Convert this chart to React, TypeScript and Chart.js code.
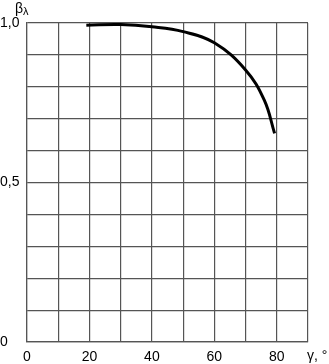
import React, { useEffect, useRef } from "react";
import { Chart, registerables } from "chart.js";

Chart.register(...registerables);

const gammaDeg = [19, 30, 40, 50, 60, 70, 76, 79.3];
const betaLambda = [0.993, 0.995, 0.988, 0.973, 0.938, 0.853, 0.758, 0.654];
const xTickLabels = [0, 20, 40, 60, 80];
const yTickLabels = [0, 0.5, 1.0];
const xTitle = "γ, °";

const FONT = "'Liberation Sans', Arial, sans-serif";

const titlesPlugin = {
  id: "titles",
  afterDraw(chart: any) {
    const ctx = chart.ctx;
    const area = chart.chartArea;
    ctx.save();
    ctx.fillStyle = "#000";
    ctx.font = `14px ${FONT}`;
    ctx.textBaseline = "middle";
    ctx.textAlign = "left";
    ctx.fillText("β", 15, 9);
    ctx.font = `11px ${FONT}`;
    ctx.fillText("λ", 23, 12);
    ctx.font = `14px ${FONT}`;
    ctx.fillText(xTitle, area.right - 1, 356);
    ctx.restore();
  },
};

export default function App() {
  const ref = useRef<HTMLCanvasElement | null>(null);
  useEffect(() => {
    if (!ref.current) return;
    const chart = new Chart(ref.current, {
      type: "line",
      data: {
        datasets: [
          {
            data: gammaDeg.map((x, i) => ({ x, y: betaLambda[i] })),
            borderColor: "#000",
            borderWidth: 3,
            pointRadius: 0,
            tension: 0.4,
            fill: false,
          },
        ],
      },
      options: {
        animation: false,
        responsive: false,
        layout: { padding: { top: 23, right: 21, left: 0, bottom: 0 } },
        plugins: { legend: { display: false }, tooltip: { enabled: false } },
        scales: {
          x: {
            type: "linear",
            min: 0,
            max: 90,
            afterFit: (s: any) => {
              s.height = 22;
            },
            grid: { color: "#555", lineWidth: 1.2, drawTicks: false },
            border: { color: "#555", width: 1.2 },
            ticks: {
              stepSize: 10,
              autoSkip: false,
              maxRotation: 0,
              padding: 7,
              color: "#000",
              font: { family: FONT, size: 14 },
              callback: (v: any) => (xTickLabels.includes(Number(v)) ? String(v) : ""),
            },
          },
          y: {
            type: "linear",
            min: 0,
            max: 1.0,
            afterFit: (s: any) => {
              s.width = 27;
            },
            grid: { color: "#555", lineWidth: 1.2, drawTicks: false },
            border: { color: "#555", width: 1.2 },
            ticks: {
              stepSize: 0.1,
              autoSkip: false,
              crossAlign: "far",
              padding: 4,
              color: "#000",
              font: { family: FONT, size: 14 },
              callback: (v: any) => {
                const n = Math.round(Number(v) * 10) / 10;
                if (!yTickLabels.includes(n)) return "";
                return n === 0 ? "0" : n.toFixed(1).replace(".", ",");
              },
            },
          },
        },
      },
      plugins: [titlesPlugin],
    });
    return () => chart.destroy();
  }, []);
  return (
    <div style={{ position: "fixed", left: 0, top: 0, width: 329, height: 364, background: "#fff" }}>
      <canvas ref={ref} width={329} height={364} style={{ width: 329, height: 364 }} />
    </div>
  );
}
